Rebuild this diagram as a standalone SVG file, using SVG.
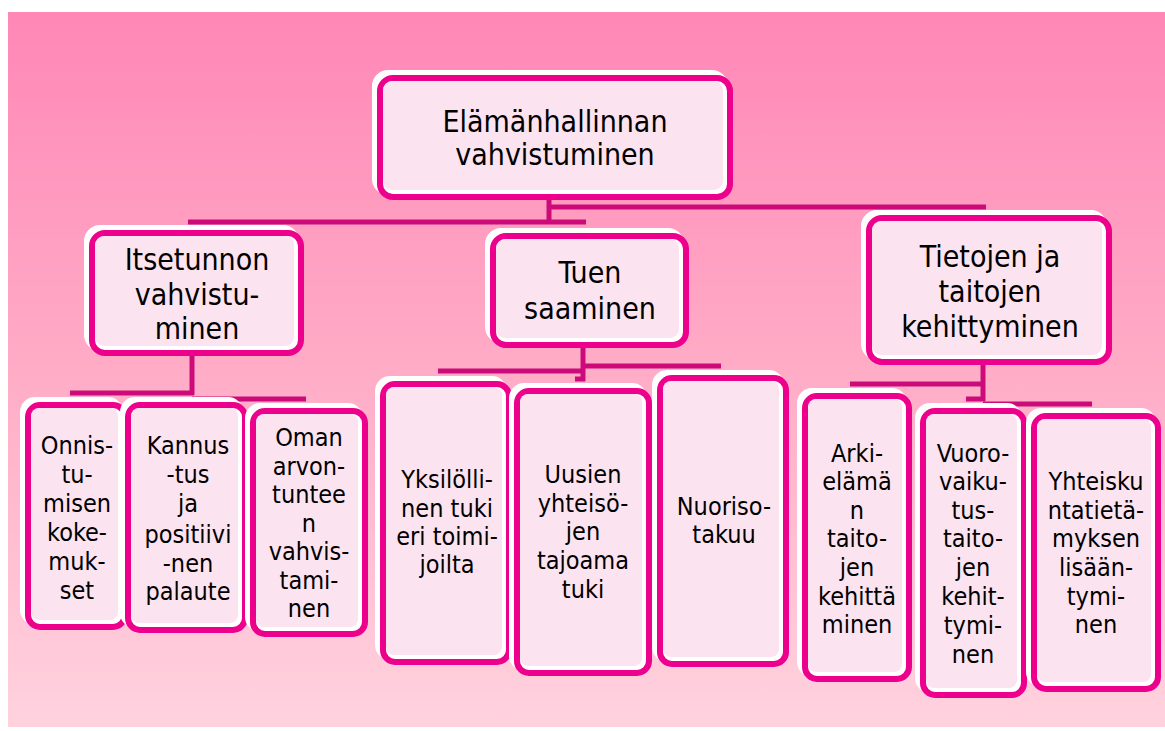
<svg xmlns="http://www.w3.org/2000/svg" width="1165" height="731" viewBox="0 0 1165 731">
<defs>
<linearGradient id="bg" x1="0" y1="0" x2="0" y2="1">
<stop offset="0" stop-color="#FF87B6"/>
<stop offset="0.5" stop-color="#FFACC7"/>
<stop offset="1" stop-color="#FFD2DE"/>
</linearGradient>
</defs>
<style>
.hl{fill:#FFFFFF;stroke:#FFFFFF;stroke-width:6}
.bd{fill:#FFFFFF;stroke:#EC008C;stroke-width:6}
.in{fill:#FCE3F0;stroke:none}
.cn{stroke:#CC0A7A;stroke-width:5;fill:none;stroke-linecap:butt}
text{font-family:"DejaVu Sans Condensed","DejaVu Sans",sans-serif;fill:#000;text-anchor:middle}
.t1{font-size:30px}
.t3{font-size:25px}
</style>
<rect x="8" y="12" width="1157" height="715" fill="url(#bg)"/>
<g id="connectors">
<path class="cn" d="M549,198 V224"/>
<path class="cn" d="M549,207 H986"/>
<path class="cn" d="M188,222 H586"/>
<path class="cn" d="M192,352 V395"/>
<path class="cn" d="M70,393 H194"/>
<path class="cn" d="M192,399 H306"/>
<path class="cn" d="M583,345 V381"/>
<path class="cn" d="M438,371 H585"/>
<path class="cn" d="M583,366 H721"/>
<path class="cn" d="M575,379 H585"/>
<path class="cn" d="M983,362 V401"/>
<path class="cn" d="M850,384 H985"/>
<path class="cn" d="M966,399 H985"/>
<path class="cn" d="M983,404 H1092"/>
</g>
<g id="n-top">
<rect class="hl" x="375" y="73" width="350" height="119" rx="13"/>
<rect class="bd" x="380" y="78" width="350" height="119" rx="13"/>
<rect class="in" x="383" y="81" width="340" height="109" rx="9"/>
<text class="t1" x="555" y="132">Elämänhallinnan</text>
<text class="t1" x="555" y="165">vahvistuminen</text>
</g>
<g id="n-itsetunto">
<rect class="hl" x="87" y="228" width="209" height="120" rx="13"/>
<rect class="bd" x="92" y="233" width="209" height="120" rx="13"/>
<rect class="in" x="95" y="236" width="199" height="110" rx="9"/>
<text class="t1" x="197" y="270">Itsetunnon</text>
<text class="t1" x="197" y="305">vahvistu-</text>
<text class="t1" x="197" y="339">minen</text>
</g>
<g id="n-tuki">
<rect class="hl" x="488" y="231" width="193" height="109" rx="13"/>
<rect class="bd" x="493" y="236" width="193" height="109" rx="13"/>
<rect class="in" x="496" y="239" width="183" height="99" rx="9"/>
<text class="t1" x="590" y="283">Tuen</text>
<text class="t1" x="590" y="319">saaminen</text>
</g>
<g id="n-tiedot">
<rect class="hl" x="864" y="213" width="240" height="144" rx="13"/>
<rect class="bd" x="869" y="218" width="240" height="144" rx="13"/>
<rect class="in" x="872" y="221" width="230" height="134" rx="9"/>
<text class="t1" x="990" y="267">Tietojen ja</text>
<text class="t1" x="990" y="302">taitojen</text>
<text class="t1" x="990" y="337">kehittyminen</text>
</g>
<g id="l-onnistumisen">
<rect class="hl" x="23" y="400" width="97" height="222" rx="12"/>
<rect class="bd" x="28" y="405" width="97" height="222" rx="12"/>
<rect class="in" x="31" y="408" width="87" height="212" rx="8"/>
<text class="t3" x="77" y="454">Onnis-</text>
<text class="t3" x="77" y="483">tu-</text>
<text class="t3" x="77" y="512">misen</text>
<text class="t3" x="77" y="541">koke-</text>
<text class="t3" x="77" y="570">muk-</text>
<text class="t3" x="77" y="599">set</text>
</g>
<g id="l-kannustus">
<rect class="hl" x="123" y="400" width="117" height="225" rx="12"/>
<rect class="bd" x="128" y="405" width="117" height="225" rx="12"/>
<rect class="in" x="131" y="408" width="107" height="215" rx="8"/>
<text class="t3" x="188" y="454">Kannus</text>
<text class="t3" x="188" y="483">-tus</text>
<text class="t3" x="188" y="512">ja</text>
<text class="t3" x="188" y="543">positiivi</text>
<text class="t3" x="188" y="572">-nen</text>
<text class="t3" x="188" y="600">palaute</text>
</g>
<g id="l-oman">
<rect class="hl" x="248" y="406" width="112" height="223" rx="12"/>
<rect class="bd" x="253" y="411" width="112" height="223" rx="12"/>
<rect class="in" x="256" y="414" width="102" height="213" rx="8"/>
<text class="t3" x="309" y="446">Oman</text>
<text class="t3" x="309" y="475">arvon-</text>
<text class="t3" x="309" y="503">tuntee</text>
<text class="t3" x="309" y="532">n</text>
<text class="t3" x="309" y="560">vahvis-</text>
<text class="t3" x="309" y="589">tami-</text>
<text class="t3" x="309" y="617">nen</text>
</g>
<g id="l-yksilollinen">
<rect class="hl" x="378" y="379" width="126" height="278" rx="12"/>
<rect class="bd" x="383" y="384" width="126" height="278" rx="12"/>
<rect class="in" x="386" y="387" width="116" height="268" rx="8"/>
<text class="t3" x="447" y="488">Yksilölli-</text>
<text class="t3" x="447" y="517">nen tuki</text>
<text class="t3" x="447" y="545">eri toimi-</text>
<text class="t3" x="447" y="573">joilta</text>
</g>
<g id="l-uusien">
<rect class="hl" x="512" y="386" width="132" height="282" rx="12"/>
<rect class="bd" x="517" y="391" width="132" height="282" rx="12"/>
<rect class="in" x="520" y="394" width="122" height="272" rx="8"/>
<text class="t3" x="583" y="483">Uusien</text>
<text class="t3" x="583" y="512">yhteisö-</text>
<text class="t3" x="583" y="540">jen</text>
<text class="t3" x="583" y="569">tajoama</text>
<text class="t3" x="583" y="598">tuki</text>
</g>
<g id="l-nuorisotakuu">
<rect class="hl" x="655" y="373" width="126" height="286" rx="12"/>
<rect class="bd" x="660" y="378" width="126" height="286" rx="12"/>
<rect class="in" x="663" y="381" width="116" height="276" rx="8"/>
<text class="t3" x="724" y="515">Nuoriso-</text>
<text class="t3" x="724" y="543">takuu</text>
</g>
<g id="l-arki">
<rect class="hl" x="800" y="391" width="104" height="283" rx="12"/>
<rect class="bd" x="805" y="396" width="104" height="283" rx="12"/>
<rect class="in" x="808" y="399" width="94" height="273" rx="8"/>
<text class="t3" x="857" y="462">Arki-</text>
<text class="t3" x="857" y="490">elämä</text>
<text class="t3" x="857" y="519">n</text>
<text class="t3" x="857" y="547">taito-</text>
<text class="t3" x="857" y="576">jen</text>
<text class="t3" x="857" y="605">kehittä</text>
<text class="t3" x="857" y="633">minen</text>
</g>
<g id="l-vuorovaikutus">
<rect class="hl" x="918" y="406" width="101" height="284" rx="12"/>
<rect class="bd" x="923" y="411" width="101" height="284" rx="12"/>
<rect class="in" x="926" y="414" width="91" height="274" rx="8"/>
<text class="t3" x="973" y="462">Vuoro-</text>
<text class="t3" x="973" y="490">vaiku-</text>
<text class="t3" x="973" y="519">tus-</text>
<text class="t3" x="973" y="547">taito-</text>
<text class="t3" x="973" y="576">jen</text>
<text class="t3" x="973" y="605">kehit-</text>
<text class="t3" x="973" y="634">tymi-</text>
<text class="t3" x="973" y="663">nen</text>
</g>
<g id="l-yhteiskunta">
<rect class="hl" x="1029" y="411" width="124" height="273" rx="12"/>
<rect class="bd" x="1034" y="416" width="124" height="273" rx="12"/>
<rect class="in" x="1037" y="419" width="114" height="263" rx="8"/>
<text class="t3" x="1096" y="490">Yhteisku</text>
<text class="t3" x="1096" y="519">ntatietä-</text>
<text class="t3" x="1096" y="547">myksen</text>
<text class="t3" x="1096" y="576">lisään-</text>
<text class="t3" x="1096" y="605">tymi-</text>
<text class="t3" x="1096" y="633">nen</text>
</g>
</svg>
